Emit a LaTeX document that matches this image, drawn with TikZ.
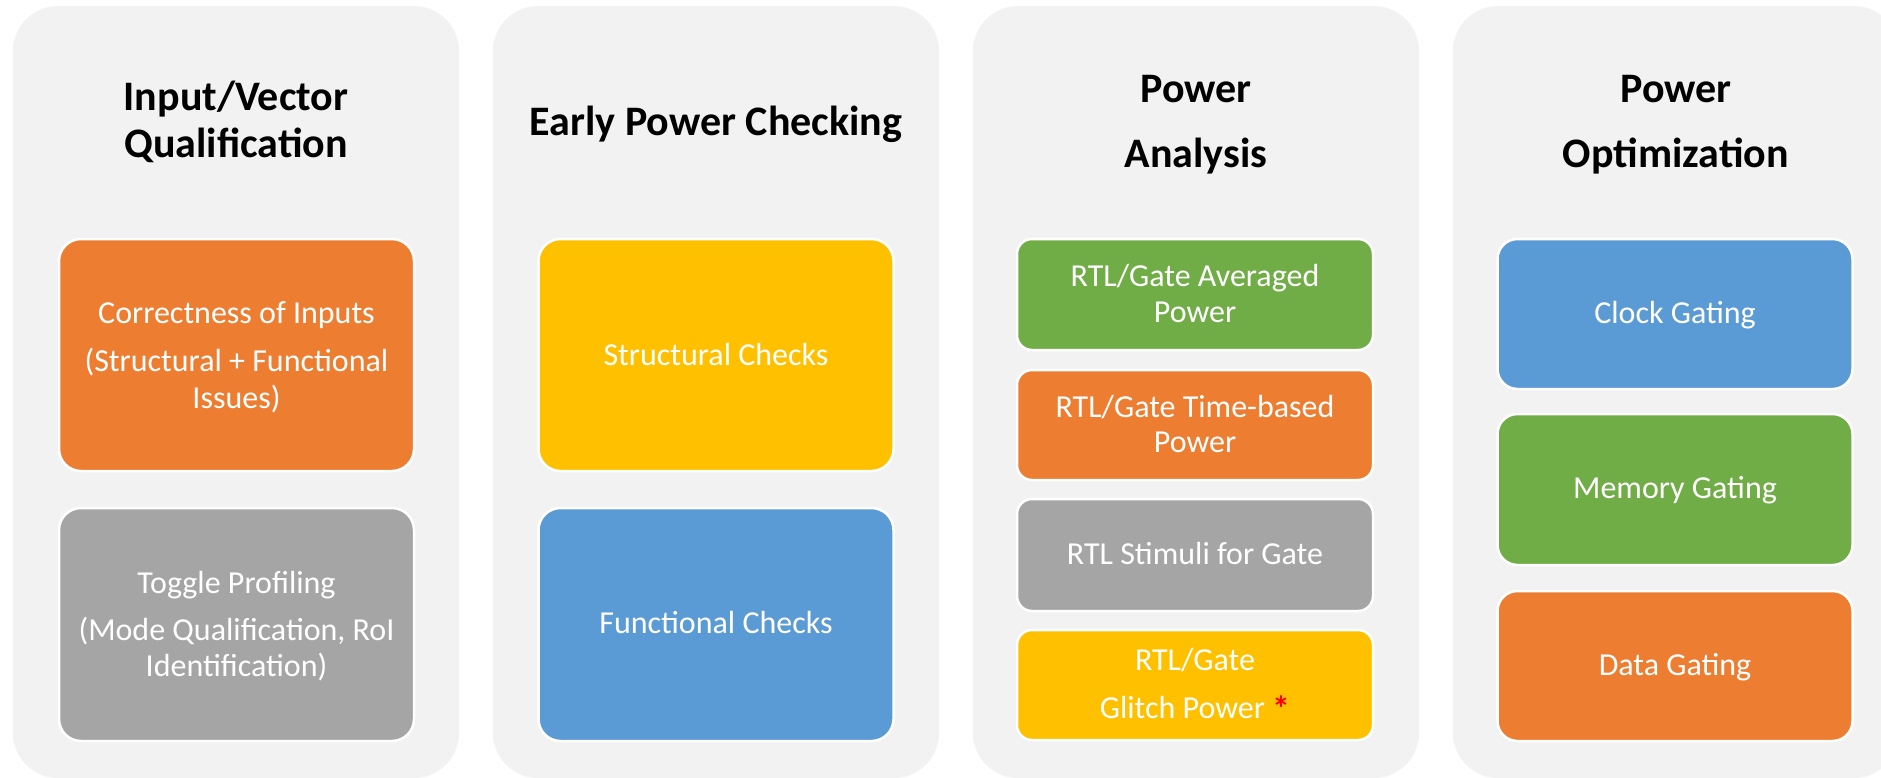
\documentclass[tikz,border=0pt]{standalone}
\usepackage{fontspec}
\setmainfont{Carlito}

\definecolor{panelbg}{HTML}{F2F2F2}
\definecolor{accorange}{HTML}{ED7D31}
\definecolor{accgray}{HTML}{A5A5A5}
\definecolor{accyellow}{HTML}{FFC000}
\definecolor{accblue}{HTML}{5B9BD5}
\definecolor{accgreen}{HTML}{70AD47}
\definecolor{starred}{HTML}{FF0000}

\begin{document}
\begin{tikzpicture}[x=1pt, y=-1pt,
  panel/.style={fill=panelbg, rounded corners=45pt, minimum width=446pt,
    minimum height=772pt, inner sep=0pt, outer sep=0pt},
  card/.style={draw=white, line width=2.5pt, inner sep=0pt, outer sep=0pt},
  bigcard/.style={card, rounded corners=22pt, minimum width=355pt},
  smallcard/.style={card, rounded corners=15pt, minimum width=356pt},
  heading/.style={anchor=base, inner sep=0pt, text=black,
    font=\fontsize{42}{50}\selectfont\bfseries},
  cardtext/.style={anchor=base, inner sep=0pt, text=white,
    font=\fontsize{32}{38}\selectfont}]

\useasboundingbox (0,0) rectangle (1881,777);
\clip (0,0) rectangle (1881,777);

% ---- column panels ----
\node[panel] (p1) at (236,392) {};
\node[panel] (p2) at (716,392) {};
\node[panel] (p3) at (1196,392) {};
\node[panel] (p4) at (1676,392) {};

% ---- column 1: Input/Vector Qualification ----
\node[heading] (h1a) at (236,110) {Input/Vector};
\node[heading] (h1b) at (236,157) {Qualification};

\node[bigcard, fill=accorange, minimum height=232pt] (c11) at (236.5,355) {};
\node[cardtext] (c11a) at (236.5,323) {Correctness of Inputs};
\node[cardtext] (c11b) at (236.5,371) {(Structural + Functional};
\node[cardtext] (c11c) at (236.5,408) {Issues)};

\node[bigcard, fill=accgray, minimum height=233pt] (c12) at (236.5,624.5) {};
\node[cardtext] (c12a) at (236.5,593) {Toggle Profiling};
\node[cardtext] (c12b) at (236.5,640) {(Mode Qualification, RoI};
\node[cardtext] (c12c) at (236.5,676) {Identification)};

% ---- column 2: Early Power Checking ----
\node[heading] (h2a) at (716,135) {Early Power Checking};

\node[bigcard, fill=accyellow, minimum height=232pt] (c21) at (716,355) {};
\node[cardtext] (c21a) at (716,365) {Structural Checks};

\node[bigcard, fill=accblue, minimum height=233pt] (c22) at (716,624.5) {};
\node[cardtext] (c22a) at (716,633) {Functional Checks};

% ---- column 3: Power Analysis ----
\node[heading] (h3a) at (1196,102) {Power};
\node[heading] (h3b) at (1196,167) {Analysis};

\node[smallcard, fill=accgreen, minimum height=111pt] (c31) at (1195,294.5) {};
\node[cardtext] (c31a) at (1195,286) {RTL/Gate Averaged};
\node[cardtext] (c31b) at (1195,322) {Power};

\node[smallcard, fill=accorange, minimum height=110pt] (c32) at (1195,425) {};
\node[cardtext] (c32a) at (1195,417) {RTL/Gate Time-based};
\node[cardtext] (c32b) at (1195,452) {Power};

\node[smallcard, fill=accgray, minimum height=112pt] (c33) at (1195,555) {};
\node[cardtext] (c33a) at (1195,564) {RTL Stimuli for Gate};

\node[smallcard, fill=accyellow, minimum height=110pt] (c34) at (1195,685) {};
\node[cardtext] (c34a) at (1195,670) {RTL/Gate};
\node[cardtext] (c34b) at (1195,718) {Glitch Power
  \raisebox{-3pt}{\fontsize{36}{36}\selectfont\bfseries\textcolor{starred}{*}}};

% ---- column 4: Power Optimization ----
\node[heading] (h4a) at (1676,102) {Power};
\node[heading] (h4b) at (1676,167) {Optimization};

\node[bigcard, rounded corners=20pt, fill=accblue, minimum height=150pt] (c41) at (1675,314) {};
\node[cardtext] (c41a) at (1675,323) {Clock Gating};

\node[bigcard, rounded corners=20pt, fill=accgreen, minimum height=151pt] (c42) at (1675,489.5) {};
\node[cardtext] (c42a) at (1675,498) {Memory Gating};

\node[bigcard, rounded corners=20pt, fill=accorange, minimum height=150pt] (c43) at (1675,666) {};
\node[cardtext] (c43a) at (1675,675) {Data Gating};

\end{tikzpicture}
\end{document}
